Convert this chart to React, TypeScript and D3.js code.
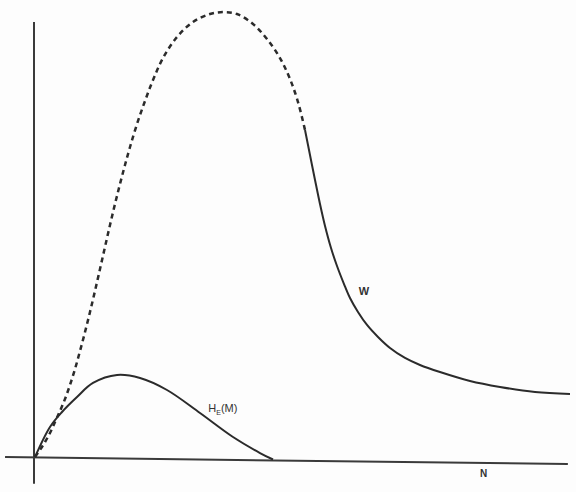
import React from "react";
import * as d3 from "d3";

// N values (abstract units 0..100) and W values (0..100)
const wDashedN = [0, 0.93, 1.87, 2.8, 3.74, 4.67, 5.61, 6.54, 7.48, 8.41, 9.35, 10.28, 11.21, 12.15, 13.08, 14.02, 14.95, 15.89, 16.82, 17.76, 19.07, 20.56, 22.06, 23.93, 26.54, 29.53, 32.71, 35.14, 37.76, 40.75, 43.36, 45.79, 47.66, 49.16, 50.47];
const wDashedW = [0, 1.58, 3.38, 5.41, 7.88, 10.36, 13.06, 16.22, 19.82, 23.87, 28.15, 32.66, 37.39, 42.34, 47.3, 52.25, 56.98, 61.49, 65.77, 69.82, 75.0, 80.18, 84.91, 89.86, 94.59, 97.97, 99.77, 100.2, 99.77, 97.52, 94.14, 89.86, 85.14, 79.95, 73.65];

const wSolidN = [50.47, 51.4, 52.34, 53.27, 54.21, 55.33, 56.45, 57.76, 58.88, 60.37, 62.06, 64.11, 66.36, 69.16, 71.96, 75.7, 81.31, 86.92, 93.46, 100];
const wSolidW = [73.65, 68.02, 62.39, 56.98, 52.03, 47.07, 43.02, 38.96, 35.81, 32.66, 29.73, 27.03, 24.55, 22.3, 20.72, 19.14, 17.12, 15.77, 14.64, 14.19];

const hN = [0, 2.8, 5.05, 7.85, 10.84, 15.33, 19.63, 24.67, 30.84, 37.01, 42.06, 44.49];
const hW = [0, 6.76, 10.14, 13.51, 16.67, 18.47, 17.79, 15.09, 9.91, 4.5, 0.9, -0.56];

const labelW = { text: "W", n: 60.5, w: 36.5 };
const labelH = { main: "H", sub: "E", rest: "(M)", n: 32.4, w: 10.2 };
const labelN = { text: "N", n: 83.2, w: -4.6 };

const W = 576;
const H = 492;

export default function App() {
  const x = d3.scaleLinear().domain([0, 100]).range([35, 570]);
  const y = d3.scaleLinear().domain([0, 100]).range([457, 13]);

  const line = d3
    .line<[number, number]>()
    .x((d) => x(d[0]))
    .y((d) => y(d[1]))
    .curve(d3.curveCatmullRom.alpha(0.5));

  const zip = (a: number[], b: number[]) => a.map((v, i) => [v, b[i]] as [number, number]);

  const ink = "#2b2b2b";

  return (
    <svg
      width={W}
      height={H}
      style={{ position: "absolute", left: 0, top: 0, background: "#fff" }}
      fontFamily="'Liberation Sans', Arial, sans-serif"
    >
      <rect width={W} height={H} fill="#fdfdfd" />
      {/* axes */}
      <line x1={x(0) - 1} y1={y(98)} x2={x(0) - 1} y2={y(-6)} stroke="#3a3a3a" strokeWidth={2} />
      <line x1={x(-5.6)} y1={y(0)} x2={x(99.6)} y2={y(-1.6)} stroke="#3a3a3a" strokeWidth={2} />

      {/* W dashed */}
      <path
        d={line(zip(wDashedN, wDashedW)) || ""}
        fill="none"
        stroke={ink}
        strokeWidth={2.5}
        strokeDasharray="5 4"
      />
      {/* W solid */}
      <path d={line(zip(wSolidN, wSolidW)) || ""} fill="none" stroke={ink} strokeWidth={2} />
      {/* H_E(M) */}
      <path d={line(zip(hN, hW)) || ""} fill="none" stroke={ink} strokeWidth={2} />

      <text x={x(labelW.n)} y={y(labelW.w)} fontSize={11} fontWeight="bold" fill="#333">
        {labelW.text}
      </text>
      <text x={x(labelH.n)} y={y(labelH.w)} fontSize={11} fill="#333">
        {labelH.main}
        <tspan fontSize={7} dy={3}>{labelH.sub}</tspan>
        <tspan dy={-3}>{labelH.rest}</tspan>
      </text>
      <text x={x(labelN.n)} y={y(labelN.w)} fontSize={10} fontWeight="bold" fill="#333">
        {labelN.text}
      </text>
    </svg>
  );
}
